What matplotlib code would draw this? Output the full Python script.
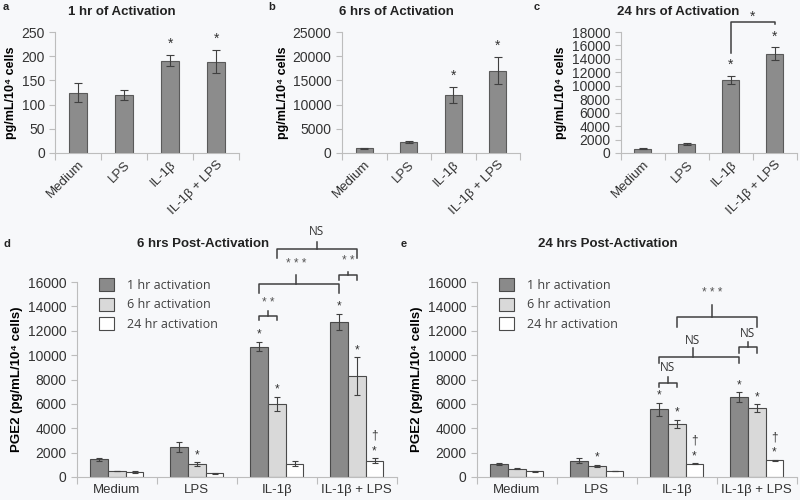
import matplotlib.pyplot as plt
import numpy as np

plt.rcParams['font.family'] = ['Liberation Sans', 'DejaVu Sans']

groups = ['Medium', 'LPS', 'IL-1β', 'IL-1β + LPS']

# panels a-c: release during activation
act_1h = [125, 120, 191, 189]
act_1h_err = [20, 11, 12, 24]
act_6h = [1000, 2300, 12000, 17000]
act_6h_err = [100, 200, 1700, 2800]
act_24h = [650, 1350, 10900, 14800]
act_24h_err = [100, 100, 600, 900]
act_stars = [False, False, True, True]

# panel d: 6 hrs post-activation
d_1h = [1450, 2450, 10700, 12750]
d_1h_err = [150, 400, 400, 650]
d_6h = [500, 1050, 6000, 8300]
d_6h_err = [30, 150, 600, 1550]
d_24h = [400, 300, 1100, 1350]
d_24h_err = [60, 40, 200, 200]
d_stars = [[0, 0, 1, 1], [0, 1, 1, 1], [0, 0, 0, 1]]
d_dagger = [0, 0, 0, 1]

# panel e: 24 hrs post-activation
e_1h = [1050, 1350, 5550, 6550]
e_1h_err = [100, 200, 550, 400]
e_6h = [680, 920, 4350, 5650]
e_6h_err = [60, 100, 350, 300]
e_24h = [460, 500, 1100, 1380]
e_24h_err = [50, 30, 50, 50]
e_stars = [[0, 0, 1, 1], [0, 1, 1, 1], [0, 0, 1, 1]]
e_dagger = [0, 0, 1, 1]

series_labels = ['1 hr activation', '6 hr activation', '24 hr activation']
series_colors = ['#8a8a8a', '#d9d9d9', '#ffffff']

bg = '#f7f8fa'
edge = '#4a4a4a'
line = '#404040'
spine = '#bdbdbd'

fig = plt.figure(figsize=(8, 5), dpi=100, facecolor=bg)


def style_axes(ax, ymax, ystep, xmax=3.5):
    ax.set_facecolor(bg)
    for s in ['top', 'right']:
        ax.spines[s].set_visible(False)
    for s in ['left', 'bottom']:
        ax.spines[s].set_color(spine)
    ax.set_xlim(-0.5, xmax)
    ax.set_ylim(0, ymax)
    ax.set_yticks(np.arange(0, ymax + 1, ystep))
    ax.set_xticks(np.arange(-0.5, 4, 1))
    ax.set_xticklabels([])
    ax.set_xticks(range(4), minor=True)
    ax.tick_params(axis='x', which='major', length=5, color=spine)
    ax.tick_params(axis='x', which='minor', length=0)
    ax.tick_params(axis='y', length=4, color=spine, labelcolor='#333333')


def bracket(ax, x1, x2, y, drop, rise, label, label_y, xc=None, drop2=None):
    if xc is None:
        xc = (x1 + x2) / 2
    if drop2 is None:
        drop2 = drop
    ax.plot([x1, x1, x2, x2], [y - drop, y, y, y - drop2], color=line,
            lw=1.1, clip_on=False)
    ax.plot([xc, xc], [y, y + rise], color=line, lw=1.1, clip_on=False)
    if label == 'NS':
        ax.text(xc, label_y, label, ha='center', va='center', color='#333333',
                fontsize=8.5, family=['Open Sans', 'DejaVu Sans'])
    else:
        ax.text(xc, label_y, ' '.join(label), ha='center', va='center',
                color='#555555', fontsize=8.5)


def star(ax, x, top, text='*', dy=6, size=9):
    ax.annotate(text, xy=(x, top), xytext=(0, dy), textcoords='offset points',
                ha='center', va='center', fontsize=size, color='#333333')


# ---- top row ----
top_panels = [
    ('a', '1 hr of Activation', act_1h, act_1h_err, 250, 50,
     [0.069, 0.694, 0.23, 0.242], 122),
    ('b', '6 hrs of Activation', act_6h, act_6h_err, 25000, 5000,
     [0.4275, 0.694, 0.2225, 0.242], 396),
    ('c', '24 hrs of Activation', act_24h, act_24h_err, 18000, 2000,
     [0.776, 0.694, 0.22, 0.242], 678),
]

for letter, title, vals, errs, ymax, ystep, rect, tx in top_panels:
    ax = fig.add_axes(rect)
    style_axes(ax, ymax, ystep)
    x = np.arange(4)
    ax.bar(x, vals, width=0.39, color='#8c8c8c', edgecolor='#5a5a5a', lw=0.8)
    ax.errorbar(x, vals, yerr=errs, fmt='none', ecolor=line, elinewidth=0.8,
                capsize=3, capthick=0.8)
    ax.set_xticklabels(groups, minor=True, rotation=45, ha='right',
                       rotation_mode='anchor', fontsize=9.5, color='#333333')
    ax.tick_params(axis='x', which='minor', pad=4)
    ax.tick_params(axis='y', labelsize=10)
    ax.set_ylabel('pg/mL/10⁴ cells', fontsize=9, fontweight='bold',
                  labelpad=3)
    for i in range(4):
        if act_stars[i]:
            star(ax, x[i], vals[i] + errs[i], dy=8, size=10)
    fig.text(tx / 800, 1 - 12 / 500, title, ha='center', va='center',
             fontsize=9.5, fontweight='bold', color='#222222')
    if letter == 'c':
        bracket(ax, 2, 3, 19500, 4600, 0, '', 0, drop2=300)
        ax.text(2.5, 20300, '*', ha='center', va='center', fontsize=10,
                color='#333333')

for letter, px, py in [('a', 3, 7), ('b', 268, 7), ('c', 534, 7),
                       ('d', 3, 244), ('e', 401, 244)]:
    fig.text(px / 800, 1 - py / 500, letter, ha='left', va='center',
             fontsize=8, fontweight='bold', color='#222222')

# ---- bottom row ----
bottom_panels = [
    ('6 hrs Post-Activation', [d_1h, d_6h, d_24h], [d_1h_err, d_6h_err, d_24h_err],
     d_stars, d_dagger, [0.096, 0.046, 0.4, 0.39], 203),
    ('24 hrs Post-Activation', [e_1h, e_6h, e_24h], [e_1h_err, e_6h_err, e_24h_err],
     e_stars, e_dagger, [0.596, 0.046, 0.4, 0.39], 608),
]

bw = 0.222
axes_bottom = []
for title, series, errs, stars, dagger, rect, tx in bottom_panels:
    ax = fig.add_axes(rect)
    style_axes(ax, 16000, 2000, xmax=3.45)
    x = np.arange(4)
    handles = []
    for k in range(3):
        xs = x + (k - 1) * bw
        h = ax.bar(xs, series[k], width=bw, color=series_colors[k],
                   edgecolor=edge, lw=0.8, label=series_labels[k])
        handles.append(h)
        ax.errorbar(xs, series[k], yerr=errs[k], fmt='none', ecolor=line,
                    elinewidth=0.8, capsize=2.5, capthick=0.8)
        for i in range(4):
            top = series[k][i] + errs[k][i]
            if stars[k][i]:
                star(ax, xs[i], top, dy=5, size=8.5)
            if k == 2 and dagger[i]:
                star(ax, xs[i], top, text='†', dy=16, size=8.5)
    ax.set_xticklabels(groups, minor=True, fontsize=9.5, color='#333333')
    ax.tick_params(axis='x', which='minor', pad=5)
    ax.tick_params(axis='y', labelsize=10)
    ax.set_ylabel('PGE2 (pg/mL/10⁴ cells)', fontsize=9.5, fontweight='bold',
                  labelpad=3)
    leg = ax.legend(handles=handles, loc='upper left',
                    bbox_to_anchor=(0.055, 1.045), frameon=False,
                    handlelength=1.2, handleheight=1.25, labelspacing=0.45,
                    handletextpad=1.0, borderaxespad=0,
                    prop={'family': ['Open Sans', 'DejaVu Sans'], 'size': 9})
    for t in leg.get_texts():
        t.set_color('#404040')
    fig.text(tx / 800, 1 - 244 / 500, title, ha='center', va='center',
             fontsize=9.5, fontweight='bold', color='#222222')
    axes_bottom.append(ax)

ax_d, ax_e = axes_bottom
l1, l6 = -bw, 0.0
bracket(ax_d, 2 + l1, 2 + l6, 13200, 300, 400, '**', 14250)
bracket(ax_d, 2 + l1, 3 + l1, 15830, 730, 740, '***', 17450, xc=2.24)
bracket(ax_d, 3 + l1, 3 + l6, 16570, 410, 230, '**', 17700)
bracket(ax_d, 2 + l6, 3 + l6, 18700, 740, 580, 'NS', 20180)

bracket(ax_e, 2 + l1, 2 + l6, 7700, 320, 500, 'NS', 9020)
bracket(ax_e, 2 + l1, 3 + l1, 9840, 490, 740, 'NS', 11240, xc=2.2)
bracket(ax_e, 3 + l1, 3 + l6, 10660, 490, 410, 'NS', 11800)
bracket(ax_e, 2 + l6, 3 + l6, 13120, 820, 980, '***', 15100, xc=2.44)

fig.savefig('out.png', dpi=100, facecolor=bg)
